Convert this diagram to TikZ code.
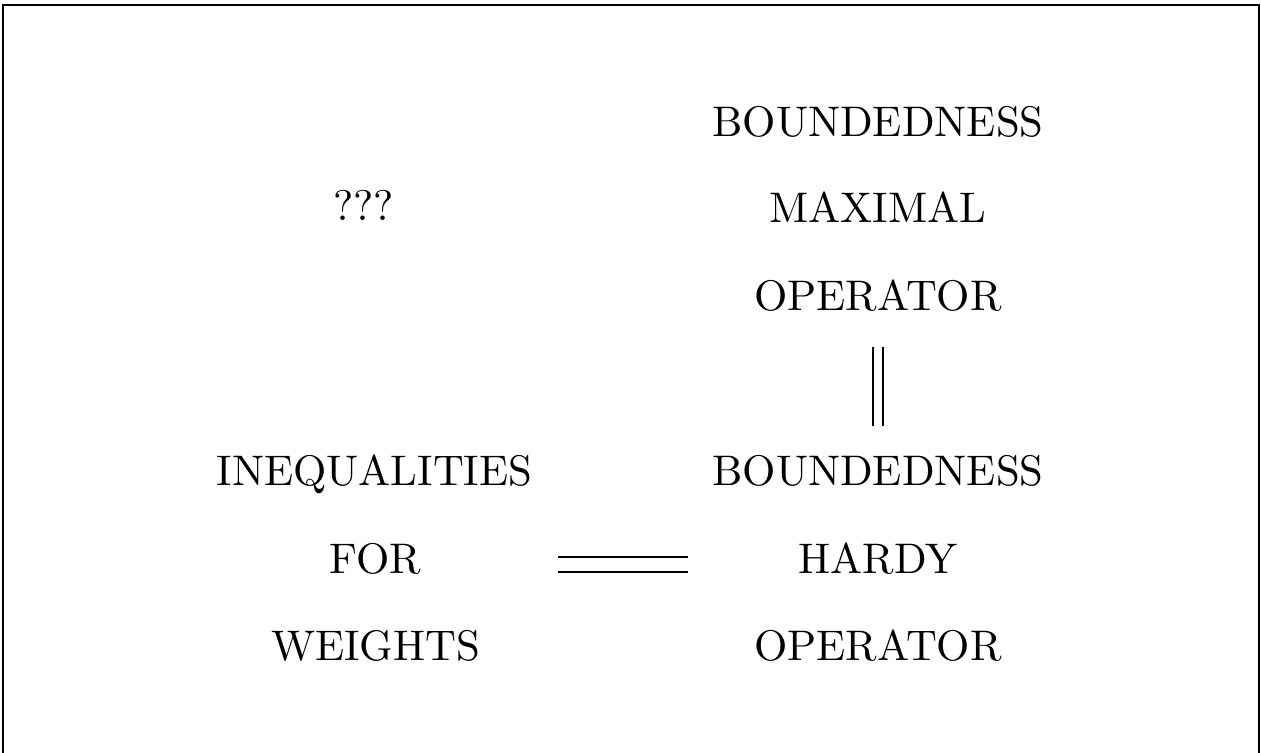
\documentclass[tikz,border=0pt]{standalone}
\begin{document}
\begin{tikzpicture}[x=0.5pt,y=-0.5pt,
  lbl/.style={anchor=base,inner sep=0pt,font=\fontsize{10}{12}\selectfont,scale=2.14,transform shape},
  eqv/.style={draw,line width=0.9pt,double,double distance=6.6pt},
  eqvv/.style={draw,line width=0.85pt,double,double distance=4.15pt},
  frame/.style={draw,line width=1.1pt}]
\useasboundingbox (0,0) rectangle (1261,753);
\draw[frame] (3,753) -- (3,5) -- (1259,5) -- (1259,753);
% right column
\node[lbl] (b1) at (878,136.5) {BOUNDEDNESS};
\node[lbl] (m1) at (878,222.5) {MAXIMAL};
\node[lbl] (o1) at (878,310) {OPERATOR};
\node[lbl] (b2) at (878,485) {BOUNDEDNESS};
\node[lbl] (h2) at (878,573) {HARDY};
\node[lbl] (o2) at (878,660) {OPERATOR};
% left column
\node[lbl] (q) at (363.5,221) {???};
\node[lbl] (i1) at (374.5,485) {INEQUALITIES};
\node[lbl] (f1) at (375,573) {FOR};
\node[lbl] (w1) at (375.5,660) {WEIGHTS};
% connectors
\coordinate (va) at (878.3,347);
\coordinate (vb) at (878.3,426);
\coordinate (ha) at (558,564.2);
\coordinate (hb) at (688,564.2);
\path[eqvv] (va) -- (vb);
\path[eqv] (ha) -- (hb);
\end{tikzpicture}
\end{document}
